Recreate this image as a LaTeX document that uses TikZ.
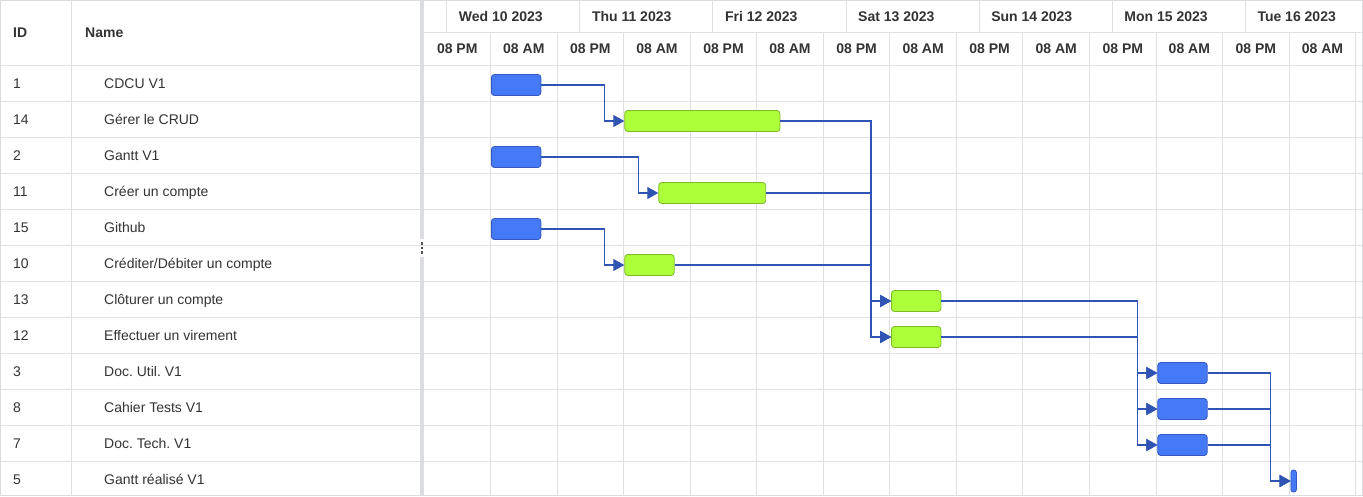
\documentclass[tikz,border=0pt]{standalone}
\usepackage{fontspec}
\setmainfont{Liberation Sans}
\usetikzlibrary{arrows.meta,calc}
\frenchspacing
\definecolor{gridc}{HTML}{E0E0E0}
\definecolor{borderc}{HTML}{DADCE0}
\definecolor{txt}{HTML}{333333}
\definecolor{dotc}{HTML}{555555}
\definecolor{bluef}{HTML}{4579F5}
\definecolor{blued}{HTML}{3558C4}
\definecolor{greenf}{HTML}{ADFF3A}
\definecolor{greend}{HTML}{7DBA28}
\definecolor{connc}{HTML}{2F54B4}
\begin{document}
\begin{tikzpicture}[x=1pt,y=-1pt,
  gridline/.style={draw=gridc,line width=1pt},
  cell/.style={font=\fontsize{14}{16}\selectfont,text=txt,inner sep=0pt,anchor=base west},
  hdr/.style={cell,font=\fontsize{14}{16}\selectfont\bfseries},
  tick/.style={hdr,anchor=base},
  task/.style={rectangle,rounded corners=3pt,minimum height=21pt,inner sep=0pt,anchor=west,line width=0.8pt},
  bluebar/.style={task,fill=bluef,draw=blued},
  greenbar/.style={task,fill=greenf,draw=greend},
  deplink/.style={draw=connc,line width=1.2pt,-{Triangle[length=11pt 0 0,width=12pt 0 0]}}
]
\useasboundingbox (0,0) rectangle (1363,496);
\fill[white] (0,0) rectangle (1363,496);

% grid: rows
\foreach \k in {0,...,11} \draw[gridline] (0,{65+36*\k}) -- (1363,{65+36*\k});
\draw[gridline] (71,0) -- (71,496);
\draw[gridline] (424,32) -- (1363,32);
\foreach \k in {1,...,14} \draw[gridline] ({424+66.55*\k},32) -- ({424+66.55*\k},496);
\foreach \d in {0,...,6} \draw[gridline] ({446.7+133.1*\d},0) -- ({446.7+133.1*\d},32);
\draw[draw=borderc,line width=1pt] (0.5,0.5) rectangle (1362.5,495.5);

% splitter
\fill[borderc] (420,0) rectangle (424,239);
\fill[borderc] (420,257) rectangle (424,496);
\foreach \yy [count=\i] in {243.5,248,252.5} \fill[dotc] (420.8,\yy-1.2) rectangle (423.2,\yy+1.2);

% left headers
\node[hdr] (hid) at (13,37) {ID};
\node[hdr] (hname) at (85,37) {Name};

% timeline headers
\foreach \lab [count=\i from 0] in {Wed 10 2023,Thu 11 2023,Fri 12 2023,Sat 13 2023,Sun 14 2023,Mon 15 2023,Tue 16 2023}
  \node[hdr] (day\i) at ({446.7+133.1*\i+12},21) {\lab};
\foreach \k in {0,2,...,12} \node[tick] (tk\k) at ({424+66.55*(\k+0.5)},53) {08 PM};
\foreach \k in {1,3,...,13} \node[tick] (tk\k) at ({424+66.55*(\k+0.5)},53) {08 AM};

% rows
\node[cell] (id1) at (13,88) {1};   \node[cell] (n1) at (104,88) {CDCU V1};
\node[cell] (id2) at (13,124) {14}; \node[cell] (n2) at (104,124) {Gérer le CRUD};
\node[cell] (id3) at (13,160) {2};  \node[cell] (n3) at (104,160) {Gantt V1};
\node[cell] (id4) at (13,196) {11}; \node[cell] (n4) at (104,196) {Créer un compte};
\node[cell] (id5) at (13,232) {15}; \node[cell] (n5) at (104,232) {Github};
\node[cell] (id6) at (13,268) {10}; \node[cell] (n6) at (104,268) {Créditer/Débiter un compte};
\node[cell] (id7) at (13,304) {13}; \node[cell] (n7) at (104,304) {Clôturer un compte};
\node[cell] (id8) at (13,340) {12}; \node[cell] (n8) at (104,340) {Effectuer un virement};
\node[cell] (id9) at (13,376) {3};  \node[cell] (n9) at (104,376) {Doc. Util. V1};
\node[cell] (id10) at (13,412) {8}; \node[cell] (n10) at (104,412) {Cahier Tests V1};
\node[cell] (id11) at (13,448) {7}; \node[cell] (n11) at (104,448) {Doc. Tech. V1};
\node[cell] (id12) at (13,484) {5}; \node[cell] (n12) at (104,484) {Gantt réalisé V1};

% bars
\node[bluebar,minimum width=49.5pt] (b1) at (491,85) {};
\node[greenbar,minimum width=155.3pt] (b14) at (624.3,121) {};
\node[bluebar,minimum width=49.5pt] (b2) at (491,157) {};
\node[greenbar,minimum width=107pt] (b11) at (658.3,193) {};
\node[bluebar,minimum width=49.5pt] (b15) at (491,229) {};
\node[greenbar,minimum width=49.5pt] (b10) at (624.3,265) {};
\node[greenbar,minimum width=49.5pt] (b13) at (891,301) {};
\node[greenbar,minimum width=49.5pt] (b12) at (891,337) {};
\node[bluebar,minimum width=49.5pt] (b3) at (1157.3,373) {};
\node[bluebar,minimum width=49.5pt] (b8) at (1157.3,409) {};
\node[bluebar,minimum width=49.5pt] (b7) at (1157.3,445) {};
\node[bluebar,minimum width=5.5pt,minimum height=22pt,rounded corners=2.5pt] (b5) at (1290.5,481) {};

% dependencies
\draw[deplink] (b1.east) -| ([xshift=-20pt]b14.west) -- (b14.west);
\draw[deplink] (b2.east) -| ([xshift=-20pt]b11.west) -- (b11.west);
\draw[deplink] (b15.east) -| ([xshift=-20pt]b10.west) -- (b10.west);
\foreach \p in {b14,b11,b10}{
  \draw[deplink] (\p.east) -| ([xshift=-20pt]b13.west) -- (b13.west);
  \draw[deplink] (\p.east) -| ([xshift=-20pt]b12.west) -- (b12.west);
}
\foreach \p in {b13,b12}{
  \foreach \s in {b3,b8,b7}
    \draw[deplink] (\p.east) -| ([xshift=-20pt]\s.west) -- (\s.west);
}
\foreach \p in {b3,b8,b7}
  \draw[deplink] (\p.east) -| ([xshift=-20pt]b5.west) -- (b5.west);
\end{tikzpicture}
\end{document}
